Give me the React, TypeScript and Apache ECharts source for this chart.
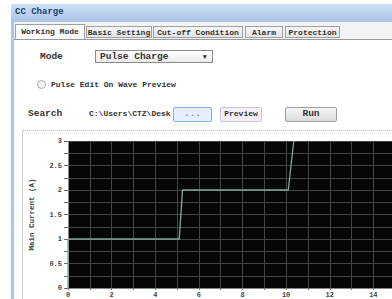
import React, { useEffect, useRef } from "react";
import * as echarts from "echarts";

const tabNames = ["Working Mode", "Basic Setting", "Cut-off Condition", "Alarm", "Protection"];
const tabEdges = [[15, 85], [86, 152], [153, 243], [245, 283], [285, 340]];
const signalX = [0, 0, 5.1, 5.25, 10.1, 10.35];
const signalY = [0, 1, 1, 2, 2, 3];
const yTickLabels = ["0", "0.5", "1", "1.5", "2", "2.5", "3"];
const xTickLabels = ["0", "2", "4", "6", "8", "10", "12", "14"];

const FONT = "'Liberation Mono', 'DejaVu Sans Mono', monospace";

function abs(o: React.CSSProperties): React.CSSProperties {
  return { position: "absolute", ...o };
}

function Chart() {
  const ref = useRef<HTMLDivElement>(null);
  useEffect(() => {
    if (!ref.current) return;
    const chart = echarts.init(ref.current, undefined, { renderer: "svg" });
    const data = signalX.map((x, i) => [x, signalY[i]]);
    chart.setOption({
      animation: false,
      grid: { left: 68, top: 141, right: 13, bottom: 11, backgroundColor: "#060606", show: true, borderWidth: 0 },
      xAxis: {
        type: "value",
        min: 0,
        max: 16,
        interval: 1,
        axisLine: { show: true, lineStyle: { color: "#888", width: 1 } },
        axisTick: { show: true, length: 2, lineStyle: { color: "#777" } },
        axisLabel: {
          fontFamily: FONT,
          fontSize: 7,
          fontWeight: "bold",
          color: "#444",
          margin: 3,
          formatter: (v: number) => (xTickLabels.includes(String(v)) ? String(v) : ""),
        },
        splitLine: { show: true, lineStyle: { color: "#454545", width: 1 } },
      },
      yAxis: {
        type: "value",
        min: 0,
        max: 3,
        interval: 0.25,
        name: "Main Current (A)",
        nameLocation: "middle",
        nameGap: 32,
        nameTextStyle: { fontFamily: FONT, fontSize: 7.5, fontWeight: "bold", color: "#444" },
        axisLine: { show: true, lineStyle: { color: "#888", width: 1 } },
        axisTick: {
          show: true,
          length: 4,
          lineStyle: { color: "#666" },
          interval: (i: number) => i % 2 === 0,
        },
        axisLabel: {
          fontFamily: FONT,
          fontSize: 7,
          fontWeight: "bold",
          color: "#444",
          margin: 6,
          formatter: (v: number) => (yTickLabels.includes(String(v)) ? String(v) : ""),
        },
        splitLine: { show: true, lineStyle: { color: "#454545", width: 1 } },
      },
      series: [
        {
          type: "line",
          data,
          symbol: "none",
          lineStyle: { color: "#82aa96", width: 1.3 },
        },
      ],
    });
    return () => chart.dispose();
  }, []);
  return <div ref={ref} style={abs({ left: 0, top: 0, width: 430, height: 299 })} />;
}

export default function App() {
  const txt: React.CSSProperties = { fontFamily: FONT, fontSize: 9.5, fontWeight: "bold", color: "#333", whiteSpace: "nowrap", lineHeight: "12px" };
  return (
    <div style={{ position: "fixed", left: 0, top: 0, width: 392, height: 299, overflow: "hidden", background: "#fff", ...txt }}>
      {/* window border */}
      <div style={abs({ left: 11, top: 4, width: 3, height: 295, background: "#a9c7ec" })} />
      {/* title bar */}
      <div style={abs({ left: 11, top: 4, width: 381, height: 18, background: "linear-gradient(#cfe0f5, #a9c4e8)" })} />
      <div style={abs({ left: 15, top: 6, color: "#1c3f72", fontSize: 9 })}>CC Charge</div>
      {/* tab strip */}
      <div style={abs({ left: 14, top: 22, width: 378, height: 17, background: "#f3f3f3", borderBottom: "1px solid #9a9a9a" })} />
      {tabNames.map((t, i) => {
        const [a, b] = tabEdges[i];
        const sel = i === 0;
        return (
          <div
            key={t}
            style={abs({
              left: a,
              top: sel ? 24 : 26,
              width: b - a,
              height: sel ? 15 : 12,
              border: "1px solid #a0a0a0",
              borderBottom: sel ? "none" : "1px solid #a0a0a0",
              background: sel ? "#fff" : "linear-gradient(#f7f7f7, #e4e4e4)",
              textAlign: "center",
              fontSize: 8,
              lineHeight: sel ? "14px" : "11px",
              boxSizing: "border-box",
              overflow: "hidden",
            })}
          >
            {t}
          </div>
        );
      })}
      {/* content */}
      <div style={abs({ left: 40, top: 51 })}>Mode</div>
      <div style={abs({ left: 95, top: 50, width: 118, height: 13, border: "1px solid #8a8a8a", background: "linear-gradient(#ffffff, #ececec)", boxSizing: "border-box" })}>
        <span style={abs({ left: 4, top: 0 })}>Pulse Charge</span>
        <span style={abs({ right: 5, top: 0, fontSize: 7 })}>▼</span>
      </div>
      <div style={abs({ left: 37, top: 80, width: 9, height: 9, borderRadius: "50%", border: "1px solid #aaa", background: "#f3f3f3", boxSizing: "border-box" })} />
      <div style={abs({ left: 51, top: 79, fontSize: 8 })}>Pulse Edit On Wave Preview</div>
      <div style={abs({ left: 28, top: 108 })}>Search</div>
      <div style={abs({ left: 89, top: 108, fontSize: 8 })}>C:\Users\CTZ\Desk</div>
      <div style={abs({ left: 173, top: 107, width: 39, height: 15, border: "1px solid #7fb3e6", background: "#e4f0fb", borderRadius: 2, boxSizing: "border-box", textAlign: "center", color: "#888" })}>...</div>
      <div style={abs({ left: 220, top: 107, width: 42, height: 15, border: "1px solid #cfc3d8", background: "#f4eef7", borderRadius: 2, boxSizing: "border-box", textAlign: "center", fontSize: 8 })}>Preview</div>
      <div style={abs({ left: 285, top: 107, width: 52, height: 15, border: "1px solid #9f9f9f", background: "linear-gradient(#f6f6f6, #dadada)", borderRadius: 2, boxSizing: "border-box", textAlign: "center" })}>Run</div>
      <div style={abs({ left: 22, top: 130, width: 370, height: 0, borderTop: "1px dotted #c8c8c8" })} />
      <div style={abs({ left: 22, top: 131, width: 1, height: 168, background: "#d0d0d0" })} />
      <Chart />
    </div>
  );
}
